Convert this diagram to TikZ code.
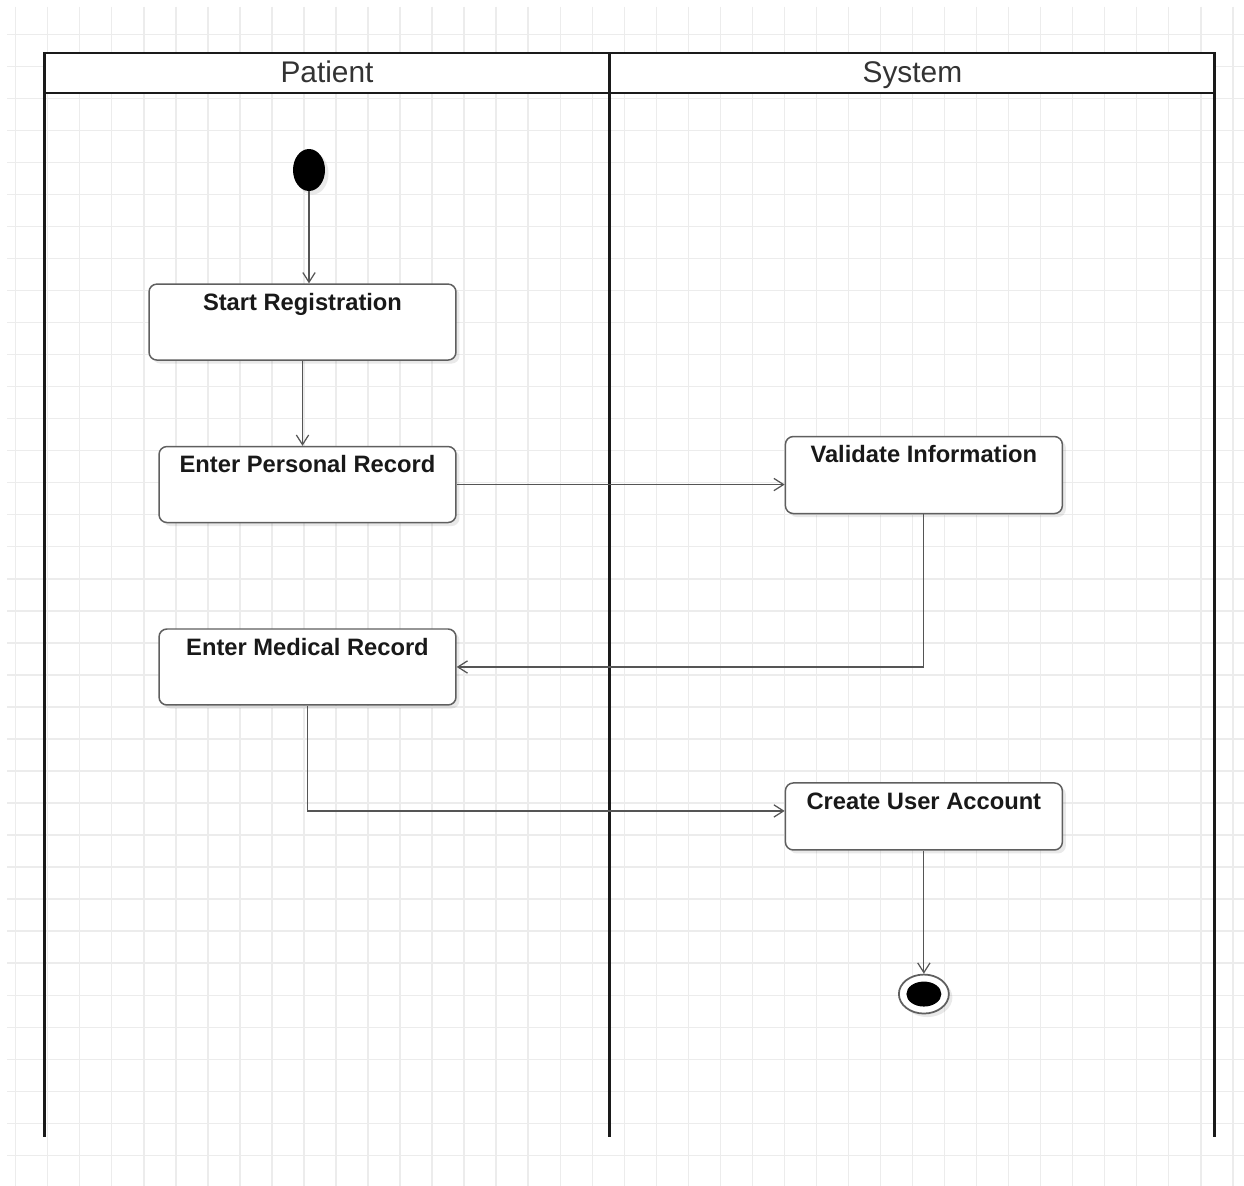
\documentclass[tikz,border=0pt]{standalone}
\usepackage{fontspec}
\setmainfont{Liberation Sans}
\usepackage{tikz}
\usetikzlibrary{positioning, arrows.meta, shapes.geometric, shadows}
\definecolor{laneInk}{RGB}{26,26,26}
\definecolor{boxInk}{RGB}{95,95,95}
\definecolor{flowInk}{RGB}{85,85,85}
\definecolor{gridInk}{RGB}{236,236,236}

\begin{document}
\begin{tikzpicture}[
    x=0.02cm, y=-0.02cm,
    gridline/.style={draw=gridInk, line width=0.8pt},
    lanehead/.style={rectangle, draw=laneInk, line width=1.7pt, fill=white, outer sep=0pt, minimum height=0.8cm, text height=10.5pt, text depth=0pt, font=\fontsize{17}{20}\selectfont, text=black!80},
    lane/.style={draw=laneInk, line width=1.7pt},
    activity/.style={rectangle, draw=boxInk, line width=0.85pt, fill=white, rounded corners=4.5pt, inner sep=0pt, drop shadow={shadow xshift=2pt, shadow yshift=-2pt, opacity=0.12, fill=black!70}},
    acttext/.style={font=\fontsize{13.5}{16}\selectfont\bfseries, text=black!90, anchor=base, yshift=-0.54cm},
    startdot/.style={ellipse, fill=black, minimum width=0.64cm, minimum height=0.84cm, inner sep=0pt, drop shadow={shadow xshift=2pt, shadow yshift=-2pt, opacity=0.12, fill=black!70}},
    enddot/.style={ellipse, draw=boxInk, line width=1pt, fill=white, minimum width=1cm, minimum height=0.78cm, inner sep=0pt, drop shadow={shadow xshift=2pt, shadow yshift=-2pt, opacity=0.12, fill=black!70}, path picture={\fill[black] (path picture bounding box.center) ellipse (0.35cm and 0.25cm);}},
    flow/.style={-{Straight Barb[length=5.5pt, width=7pt]}, draw=flowInk, line width=0.7pt}
]

% Page and grid
\fill[white] (0,0) rectangle (1244,1186);
\useasboundingbox (0,0) rectangle (1244,1186);
\foreach \gx in {0,...,38} \draw[gridline] ({15.7+32.03*\gx},7) -- ({15.7+32.03*\gx},1186);
\foreach \gy in {0,...,35} \draw[gridline] (7,{34.3+32.03*\gy}) -- (1244,{34.3+32.03*\gy});

% Swimlanes
\node[lanehead, minimum width=11.32cm] (patienthead) at (327,73) {Patient};
\node[lanehead, minimum width=12.1cm, right=0cm of patienthead] (systemhead) {System};
\coordinate (laneend) at (0,1137);

\draw[lane] (patienthead.south west) -- (patienthead.south west |- laneend);
\draw[lane] (patienthead.south east) -- (patienthead.south east |- laneend);
\draw[lane] (systemhead.south east) -- (systemhead.south east |- laneend);

% Patient lane
\node[startdot] (start) at (309,170) {};
\node[activity, minimum width=6.14cm, minimum height=1.52cm, below=1.84cm of start, xshift=-0.13cm, label={[acttext]north:Start Registration}] (startreg) {};
\node[activity, minimum width=5.94cm, minimum height=1.52cm, below=1.70cm of startreg, xshift=0.1cm, label={[acttext]north:Enter Personal Record}] (personal) {};
\node[activity, minimum width=5.94cm, minimum height=1.52cm, below=2.10cm of personal, label={[acttext]north:Enter Medical Record}] (medical) {};

% System lane
\node[activity, minimum width=5.54cm, minimum height=1.54cm, right=6.56cm of personal, yshift=0.19cm, label={[acttext]north:Validate Information}] (validate) {};
\node[activity, minimum width=5.54cm, minimum height=1.34cm, below=5.36cm of validate, label={[acttext]north:Create User Account}] (create) {};
\node[enddot, below=2.46cm of create] (finish) {};

% Control flow
\draw[flow] (start) -- (start |- startreg.north);
\draw[flow] (startreg.south) -- (startreg.south |- personal.north);
\draw[flow] (personal.east) -- (personal.east -| validate.west);
\draw[flow] (validate.south) |- (medical.east);
\draw[flow] (medical.south) |- ([yshift=0.11cm]create.west);
\draw[flow] (create.south) -- (finish.north);

\end{tikzpicture}
\end{document}
